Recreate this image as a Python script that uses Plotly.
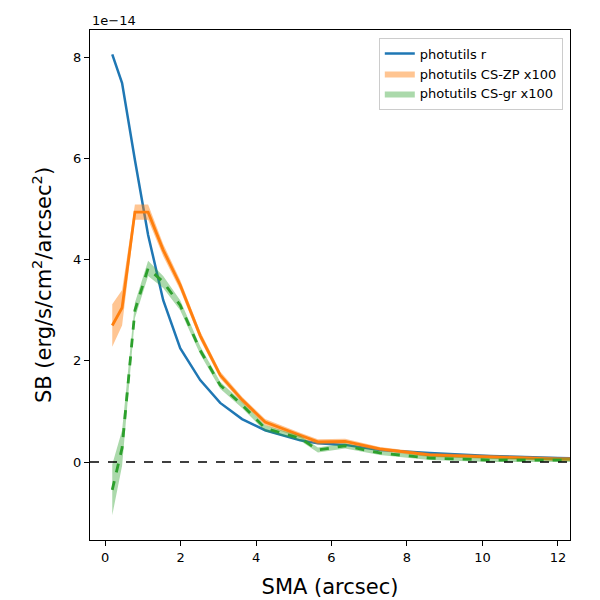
import plotly.graph_objects as go

# surface brightness in units of 1e-14 erg/s/cm^2/arcsec^2
sma = [0.19, 0.45, 0.79, 1.14, 1.54, 1.99, 2.52, 3.05, 3.63, 4.24, 5.17, 5.64,
       6.36, 7.28, 8.6, 10.2, 12.0, 12.6]
sb_r = [8.06, 7.49, 5.97, 4.49, 3.2, 2.25, 1.62, 1.17, 0.85, 0.63, 0.43, 0.37,
        0.34, 0.24, 0.18, 0.12, 0.08, 0.07]
sb_zp = [2.7, 3.05, 4.94, 4.94, 4.19, 3.5, 2.5, 1.72, 1.23, 0.79, 0.53, 0.4,
         0.41, 0.26, 0.14, 0.1, 0.06, 0.06]
err_zp = [0.42, 0.35, 0.15, 0.15, 0.12, 0.1, 0.08, 0.07, 0.06, 0.06, 0.05, 0.05,
          0.05, 0.04, 0.04, 0.04, 0.04, 0.04]
sb_gr = [-0.55, 0.28, 3.0, 3.83, 3.56, 3.1, 2.21, 1.52, 1.13, 0.67, 0.47, 0.24,
         0.32, 0.18, 0.08, 0.04, 0.04, 0.04]
err_gr = [0.5, 0.35, 0.15, 0.15, 0.12, 0.1, 0.08, 0.07, 0.06, 0.06, 0.05, 0.05,
          0.05, 0.04, 0.04, 0.04, 0.04, 0.04]

blue, orange, green = '#1f77b4', '#ff7f0e', '#2ca02c'


def band(y, e, color, name):
    up = [a + b for a, b in zip(y, e)]
    lo = [a - b for a, b in zip(y, e)]
    return go.Scatter(x=sma + sma[::-1], y=up + lo[::-1], fill='toself',
                      fillcolor=color, line=dict(width=0), mode='lines',
                      name=name, hoverinfo='skip')


fig = go.Figure()
fig.add_trace(go.Scatter(x=sma, y=sb_r, mode='lines', name='photutils r',
                         line=dict(color=blue, width=2.5)))
fig.add_trace(band(sb_zp, err_zp, 'rgba(255,127,14,0.45)', 'photutils CS-ZP x100'))
fig.add_trace(go.Scatter(x=sma, y=sb_zp, mode='lines', showlegend=False,
                         line=dict(color=orange, width=2.8)))
fig.add_trace(band(sb_gr, err_gr, 'rgba(44,160,44,0.4)', 'photutils CS-gr x100'))
fig.add_trace(go.Scatter(x=sma, y=sb_gr, mode='lines', showlegend=False,
                         line=dict(color=green, width=2.8, dash='dash')))
fig.add_hline(y=0, line=dict(color='black', width=1.5, dash='dash'))

fig.update_layout(
    width=600, height=600, plot_bgcolor='white', paper_bgcolor='white',
    margin=dict(l=82, r=38, t=22, b=68),
    font=dict(family='DejaVu Sans', size=13, color='black'),
    legend=dict(x=0.985, y=0.985, xanchor='right', yanchor='top',
                bordercolor='#cccccc', borderwidth=1, font=dict(size=13)),
    annotations=[dict(text='1e\u221214', xref='paper', yref='paper', x=0, y=1,
                      xanchor='left', yanchor='bottom', showarrow=False,
                      font=dict(size=13))],
)
axis = dict(showline=True, linecolor='black', mirror=True, ticks='outside',
            showgrid=False, zeroline=False, tickcolor='black')
fig.update_xaxes(range=[-0.4, 12.32], tickvals=[0, 2, 4, 6, 8, 10, 12],
                 title=dict(text='SMA (arcsec)', font=dict(size=21)), **axis)
fig.update_yaxes(range=[-1.54, 8.54], tickvals=[0, 2, 4, 6, 8],
                 title=dict(text='SB (erg/s/cm<sup>2</sup>/arcsec<sup>2</sup>)',
                            font=dict(size=21)), **axis)

fig.write_html('out.html')
